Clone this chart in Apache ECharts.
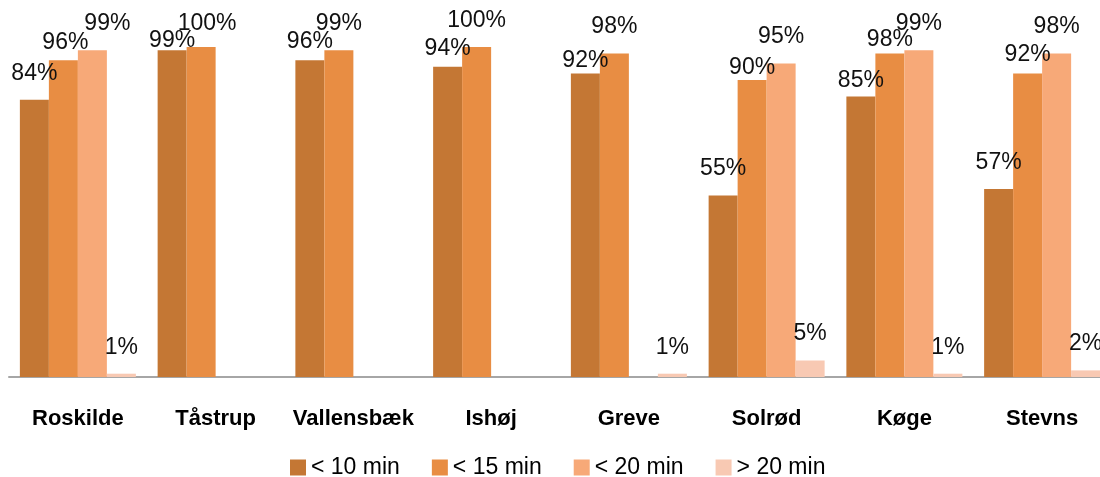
<!DOCTYPE html>
<html>
<head>
<meta charset="utf-8">
<script src="https://cdn.jsdelivr.net/npm/echarts@6/dist/echarts.min.js"></script>
<style>html,body{margin:0;padding:0;background:#fff;overflow:hidden;width:1100px;height:477px;}#c{width:1111px;height:477px;}</style>
</head>
<body>
<div id="c"></div>
<script>
const categories = ['Roskilde', 'Tåstrup', 'Vallensbæk', 'Ishøj', 'Greve', 'Solrød', 'Køge', 'Stevns'];
const seriesNames = ['< 10 min', '< 15 min', '< 20 min', '> 20 min'];
const under10 = [84, 99, 96, 94, 92, 55, 85, 57];
const under15 = [96, 100, 99, 100, 98, 90, 98, 92];
const under20 = [99, null, null, null, null, 95, 99, 98];
const over20 = [1, null, null, null, 1, 5, 1, 2];
const colors = ['#C47734', '#E88D43', '#F7A978', '#F8C9B3'];
// label nudges (layout only): [seriesIndex, categoryIndex, dx, dy]
const labelNudges = [
  [1, 0, 2, 9], [2, 0, 15, 0],
  [0, 1, 0, 17], [1, 1, 6, 3],
  [0, 2, 0, 8], [0, 3, 0, 8],
  [0, 4, 0, 14], [1, 5, 0, 14],
  [0, 6, 0, 11], [1, 6, 0, 13],
  [1, 7, 0, 8]
];

const values = [under10, under15, under20, over20];
const font = 'Liberation Sans';
function buildData(si) {
  return values[si].map((v, ci) => {
    const n = labelNudges.find(a => a[0] === si && a[1] === ci);
    if (v == null || !n) return v;
    return {value: v, label: {offset: [n[2], n[3]]}};
  });
}

const chart = echarts.init(document.getElementById('c'), null, {renderer: 'canvas'});
chart.setOption({
  animation: false,
  color: colors,
  grid: {left: 9, top: 47, right: 0, bottom: 100, containLabel: false},
  legend: {
    data: seriesNames,
    top: 451,
    left: 285,
    itemWidth: 16,
    itemHeight: 16,
    itemGap: 32,
    icon: 'rect',
    textStyle: {fontFamily: font, fontSize: 23, color: '#000'}
  },
  xAxis: {
    type: 'category',
    data: categories,
    axisLine: {lineStyle: {color: '#A6A6A6', width: 2}},
    axisTick: {show: false},
    axisLabel: {interval: 0, fontFamily: font, fontSize: 22, fontWeight: 'bold', color: '#000', margin: 31}
  },
  yAxis: {
    type: 'value', min: 0, max: 100, show: false,
    splitLine: {show: false}
  },
  series: seriesNames.map((n, i) => ({
    name: n,
    type: 'bar',
    data: buildData(i),
    barWidth: 29,
    barGap: '0%',
    label: {
      show: true, position: 'top', distance: 15,
      formatter: '{c}%',
      fontFamily: font, fontSize: 23, color: '#111'
    }
  }))
});
</script>
</body>
</html>
